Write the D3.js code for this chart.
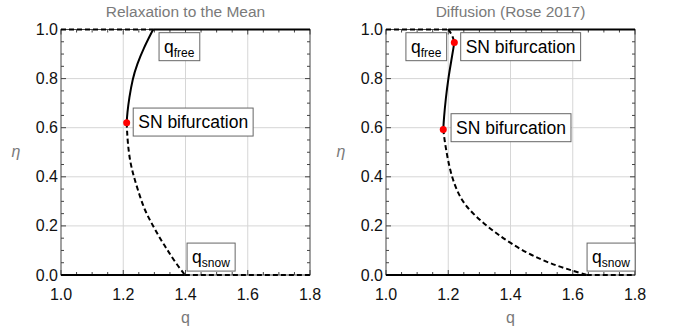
<!DOCTYPE html>
<html>
<head>
<meta charset="utf-8">
<script src="https://cdn.jsdelivr.net/npm/d3@7"></script>
<style>
body { margin: 0; background: #fff; }
text { font-family: "Liberation Sans", Arial, sans-serif; }
</style>
</head>
<body>
<script>
var width = 678, height = 335;

var titles = ["Relaxation to the Mean", "Diffusion (Rose 2017)"];
var xTicks = [1.0, 1.2, 1.4, 1.6, 1.8];
var yTicks = [0.0, 0.2, 0.4, 0.6, 0.8, 1.0];

// [q, eta]
var relaxStable = [[1.296, 1.0], [1.264, 0.92], [1.245, 0.86], [1.230, 0.8], [1.219, 0.72], [1.213, 0.66], [1.211, 0.62]];
var relaxUnstable = [[1.211, 0.62], [1.214, 0.54], [1.222, 0.46], [1.234, 0.4], [1.251, 0.33], [1.270, 0.26],
  [1.296, 0.2], [1.322, 0.14], [1.343, 0.1], [1.368, 0.05], [1.398, 0.0]];
var relaxSN = [[1.211, 0.62]];
var relaxFree = 1.296, relaxSnow = 1.398;

var diffStable = [[1.2195, 0.947], [1.216, 0.92], [1.211, 0.882], [1.2, 0.8], [1.192, 0.719], [1.186, 0.638], [1.184, 0.593]];
var diffUnstable = [[1.184, 0.593], [1.188, 0.55], [1.197, 0.48], [1.211, 0.4], [1.232, 0.33], [1.257, 0.28], [1.288, 0.24],
  [1.3235, 0.2], [1.36, 0.165], [1.4, 0.13], [1.45, 0.092], [1.5, 0.062], [1.55, 0.037], [1.6, 0.0175], [1.645, 0.0]];
var diffUnstableTop = [[1.2, 1.0], [1.209, 0.985], [1.216, 0.965], [1.2195, 0.947]];
var diffSN = [[1.2195, 0.947], [1.184, 0.593]];
var diffFree = 1.2, diffSnow = 1.645;

// label anchors: left edge q, centre eta
var relaxLabels = [
  {q: 1.315, eta: 0.93, main: "q", sub: "free"},
  {q: 1.232, eta: 0.623, main: "SN bifurcation", sub: ""},
  {q: 1.405, eta: 0.073, main: "q", sub: "snow"}
];
var diffLabels = [
  {q: 1.064, eta: 0.93, main: "q", sub: "free"},
  {q: 1.240, eta: 0.93, main: "SN bifurcation", sub: ""},
  {q: 1.209, eta: 0.60, main: "SN bifurcation", sub: ""},
  {q: 1.646, eta: 0.073, main: "q", sub: "snow"}
];

var panels = [
  {x0: 61, title: titles[0], stable: [relaxStable], unstable: [relaxUnstable], sn: relaxSN, free: relaxFree, snow: relaxSnow, labels: relaxLabels},
  {x0: 386, title: titles[1], stable: [diffStable], unstable: [diffUnstable, diffUnstableTop], sn: diffSN, free: diffFree, snow: diffSnow, labels: diffLabels}
];

var svg = d3.select("body")
  .append("svg")
  .attr("width", width)
  .attr("height", height);

var pw = 249, plotTop = 29.5, plotBottom = 275;
var frameColor = "#444", grey = "#7a7a7a";

panels.forEach(function(p) {
  var x = d3.scaleLinear().domain([1.0, 1.8]).range([p.x0, p.x0 + pw]);
  var y = d3.scaleLinear().domain([0, 1]).range([plotBottom, plotTop]);
  var g = svg.append("g");

  // grid
  g.selectAll(".gx").data(xTicks.slice(1, -1)).enter().append("line")
    .attr("x1", function(d) { return x(d); }).attr("x2", function(d) { return x(d); })
    .attr("y1", plotTop).attr("y2", plotBottom)
    .attr("stroke", "#d6d6d6").attr("stroke-width", 1);
  g.selectAll(".gy").data(yTicks.slice(1, -1)).enter().append("line")
    .attr("y1", function(d) { return y(d); }).attr("y2", function(d) { return y(d); })
    .attr("x1", x(1.0)).attr("x2", x(1.8))
    .attr("stroke", "#d6d6d6").attr("stroke-width", 1);

  // frame
  g.append("rect")
    .attr("x", x(1.0)).attr("y", plotTop)
    .attr("width", pw).attr("height", plotBottom - plotTop)
    .attr("fill", "none").attr("stroke", frameColor).attr("stroke-width", 1);

  // inward ticks
  var xt = d3.range(0, 17).map(function(i) { return 1.0 + i * 0.05; });
  var yt = d3.range(0, 21).map(function(i) { return i * 0.05; });
  xt.forEach(function(v, i) {
    var len = i % 4 === 0 ? 5 : 3;
    g.append("line").attr("x1", x(v)).attr("x2", x(v)).attr("y1", plotBottom).attr("y2", plotBottom - len)
      .attr("stroke", frameColor);
    g.append("line").attr("x1", x(v)).attr("x2", x(v)).attr("y1", plotTop).attr("y2", plotTop + len)
      .attr("stroke", frameColor);
  });
  yt.forEach(function(v, i) {
    var len = i % 4 === 0 ? 5 : 3;
    g.append("line").attr("y1", y(v)).attr("y2", y(v)).attr("x1", x(1.0)).attr("x2", x(1.0) + len)
      .attr("stroke", frameColor);
    g.append("line").attr("y1", y(v)).attr("y2", y(v)).attr("x1", x(1.8)).attr("x2", x(1.8) - len)
      .attr("stroke", frameColor);
  });

  // tick labels
  g.selectAll(".xl").data(xTicks).enter().append("text")
    .attr("x", function(d) { return x(d); }).attr("y", 300)
    .attr("text-anchor", "middle").attr("font-size", 16).attr("fill", "#111")
    .text(function(d) { return d3.format(".1f")(d); });
  g.selectAll(".yl").data(yTicks).enter().append("text")
    .attr("x", x(1.0) - 3).attr("y", function(d) { return y(d) + 5.5; })
    .attr("text-anchor", "end").attr("font-size", 16).attr("fill", "#111")
    .text(function(d) { return d3.format(".1f")(d); });

  // title & axis labels
  g.append("text").attr("x", x(1.4)).attr("y", 17).attr("text-anchor", "middle")
    .attr("font-size", 15.5).attr("fill", grey).text(p.title);
  g.append("text").attr("x", x(1.4)).attr("y", 323).attr("text-anchor", "middle")
    .attr("font-size", 16).attr("fill", grey).text("q");
  g.append("text").attr("x", p.x0 - 45).attr("y", 157).attr("text-anchor", "middle")
    .attr("font-size", 16).attr("font-style", "italic").attr("fill", grey).text("η");

  // eta = 1 and eta = 0 branches
  var hlines = [
    {q0: 1.0, q1: p.free, eta: 1, dash: true},
    {q0: p.free, q1: 1.8, eta: 1, dash: false},
    {q0: 1.0, q1: p.snow, eta: 0, dash: false},
    {q0: p.snow, q1: 1.8, eta: 0, dash: true}
  ];
  g.selectAll(".hl").data(hlines).enter().append("line")
    .attr("x1", function(d) { return x(d.q0); }).attr("x2", function(d) { return x(d.q1); })
    .attr("y1", function(d) { return y(d.eta); }).attr("y2", function(d) { return y(d.eta); })
    .attr("stroke", "#000").attr("stroke-width", 2)
    .attr("stroke-dasharray", function(d) { return d.dash ? "5,3" : null; });

  var line = d3.line()
    .x(function(d) { return x(d[0]); })
    .y(function(d) { return y(d[1]); })
    .curve(d3.curveBasis);

  p.stable.forEach(function(c) {
    g.append("path").attr("d", line(c)).attr("fill", "none")
      .attr("stroke", "#000").attr("stroke-width", 2);
  });
  p.unstable.forEach(function(c) {
    g.append("path").attr("d", line(c)).attr("fill", "none")
      .attr("stroke", "#000").attr("stroke-width", 2).attr("stroke-dasharray", "5,3");
  });

  g.selectAll(".sn").data(p.sn).enter().append("circle")
    .attr("cx", function(d) { return x(d[0]); }).attr("cy", function(d) { return y(d[1]); })
    .attr("r", 3.5).attr("fill", "#f00");

  // labels
  p.labels.forEach(function(l) {
    var lg = g.append("g");
    var box = lg.append("rect");
    var t = lg.append("text")
      .attr("x", x(l.q) + 5).attr("y", y(l.eta) + 6)
      .attr("font-size", 17.5).attr("fill", "#000");
    t.append("tspan").text(l.main);
    if (l.sub) {
      t.append("tspan").attr("dy", 4).attr("font-size", 12).text(l.sub);
    }
    var bb = t.node().getBBox();
    box.attr("x", x(l.q)).attr("y", y(l.eta) - 14)
      .attr("width", bb.width + 10).attr("height", 28)
      .attr("fill", "#fff").attr("stroke", "#666").attr("stroke-width", 1);
  });
});
</script>
</body>
</html>
